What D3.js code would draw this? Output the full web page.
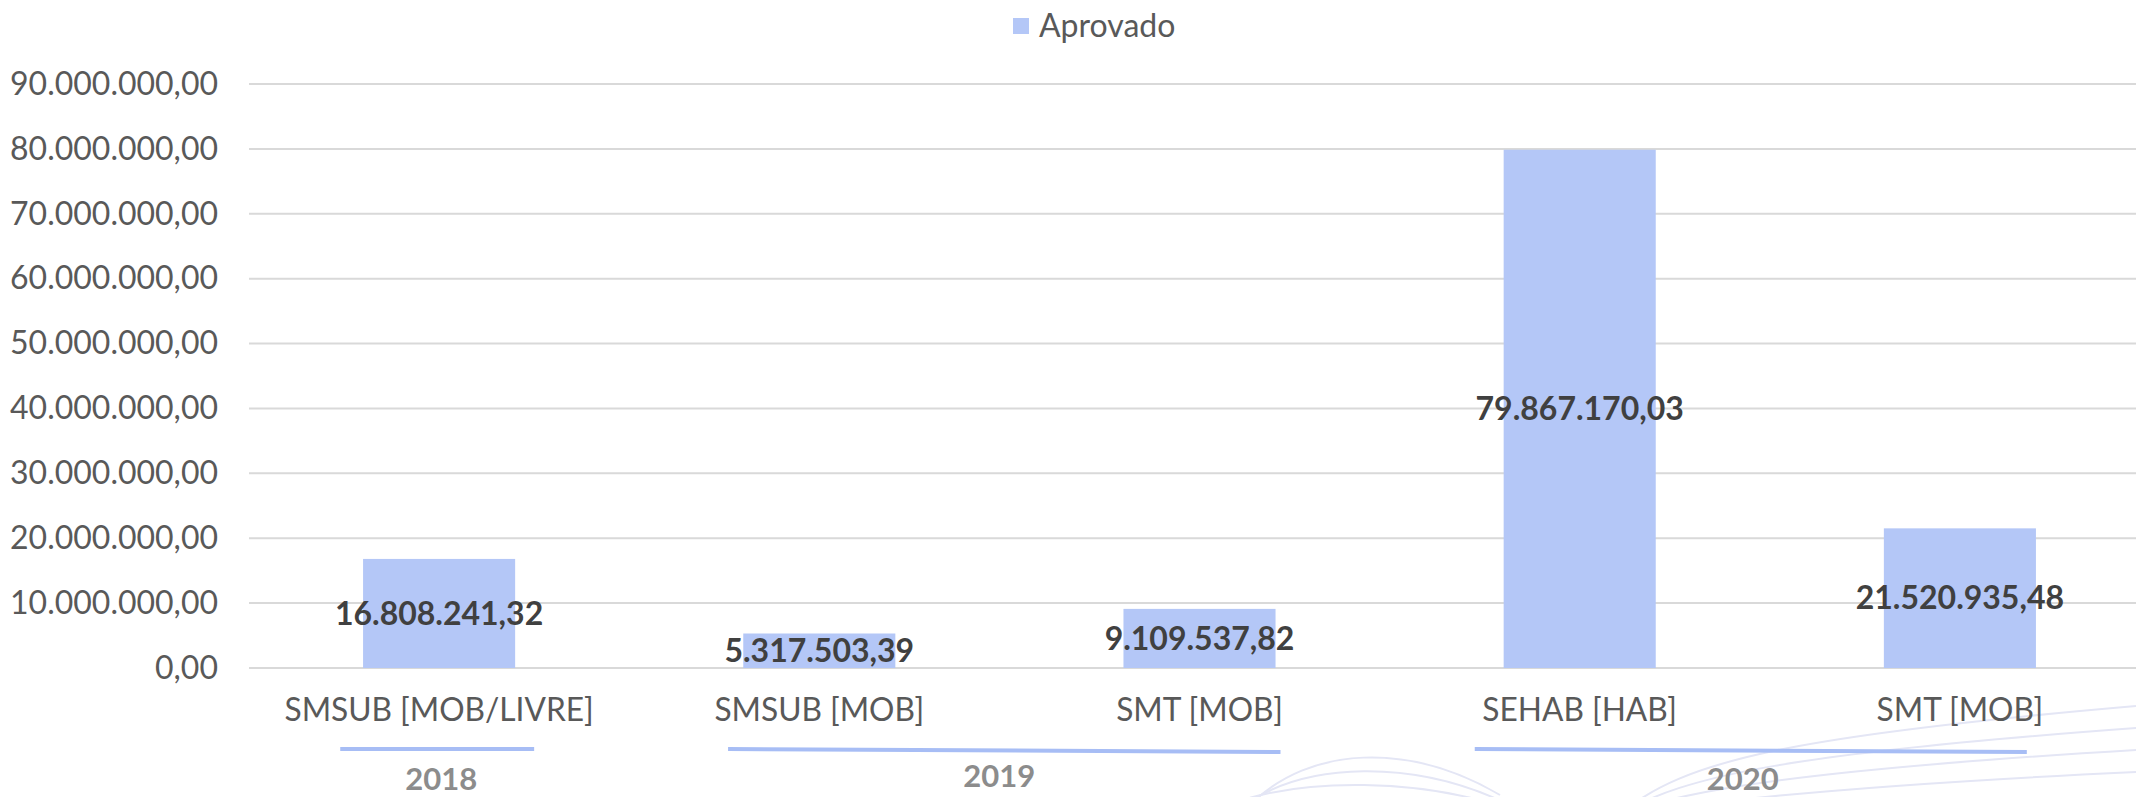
<!DOCTYPE html>
<html>
<head>
<meta charset="utf-8">
<script src="https://cdn.jsdelivr.net/npm/d3@7"></script>
<style>
  body { margin: 0; background: #fff; }
  svg { display: block; font-family: Lato, "Open Sans", sans-serif; }
</style>
</head>
<body>
<script>
// data
var categories = ["SMSUB [MOB/LIVRE]", "SMSUB [MOB]", "SMT [MOB]", "SEHAB [HAB]", "SMT [MOB]"];
var years = ["2018", "2019", "2019", "2020", "2020"];
var aprovado = [16808241.32, 5317503.39, 9109537.82, 79867170.03, 21520935.48];
var yTicks = [0, 10000000, 20000000, 30000000, 40000000, 50000000, 60000000, 70000000, 80000000, 90000000];
var seriesName = "Aprovado";

var W = 2136, H = 797;
// plot area runs a bit past the right edge of the picture (cropped like the original)
var margin = {top: 84, left: 249},
    width = 1901,
    height = 668 - margin.top;

var ptBR = d3.formatLocale({decimal: ",", thousands: ".", grouping: [3], currency: ["R$", ""]});
var fmt = ptBR.format(",.2f");

var svg = d3.select("body")
  .append("svg")
    .attr("width", W)
    .attr("height", H);

// faint background swirls (slide decoration)
var deco = svg.append("g").attr("fill", "none").attr("stroke", "#e4e6f5").attr("stroke-width", 2);
[0, 18, 36].forEach(function(o) {
  deco.append("path").attr("d", "M1250," + (805 - o * 0.2) + " C1310," + (745 + o) + " 1410," + (742 + o) + " 1500," + (795 + o * 0.3));
});
[0, 22, 44, 66].forEach(function(o) {
  deco.append("path").attr("d", "M1620,815 C1680," + (760 + o * 0.7) + " 1800," + (735 + o * 0.8) + " 2136," + (706 + o));
});

var chartGroup = svg.append("g")
  .attr("transform", "translate(" + margin.left + "," + margin.top + ")");

var idx = d3.range(categories.length);

var x = d3.scaleBand()
  .domain(idx)
  .range([0, width])
  .paddingInner(0.6)
  .paddingOuter(0.3);

var y = d3.scaleLinear()
  .domain([0, 90000000])
  .range([height, 0]);

// gridlines
chartGroup.append("g")
  .selectAll("line")
  .data(yTicks)
  .enter()
  .append("line")
    .attr("x1", 0)
    .attr("x2", W - margin.left)
    .attr("y1", d => y(d))
    .attr("y2", d => y(d))
    .attr("stroke", "#d9d9d9")
    .attr("stroke-width", 2);

// y axis labels
var yAxis = d3.axisLeft(y).tickValues(yTicks).tickFormat(fmt).tickSize(0).tickPadding(31);
var yg = chartGroup.append("g").call(yAxis);
yg.select(".domain").remove();
yg.selectAll("text")
  .attr("font-size", 32)
  .attr("fill", "#595959")
  .attr("font-family", "Lato, sans-serif");

// bars
chartGroup.selectAll("rect.bar")
  .data(idx)
  .enter()
  .append("rect")
    .attr("class", "bar")
    .attr("x", i => x(i))
    .attr("y", i => y(aprovado[i]))
    .attr("width", x.bandwidth())
    .attr("height", i => height - y(aprovado[i]))
    .attr("fill", "#b4c7f7");

// data labels (centered in bar)
chartGroup.selectAll("text.val")
  .data(idx)
  .enter()
  .append("text")
    .attr("class", "val")
    .attr("x", i => x(i) + x.bandwidth() / 2)
    .attr("y", i => (y(aprovado[i]) + height) / 2)
    .attr("dy", "0.35em")
    .attr("text-anchor", "middle")
    .attr("font-size", 32)
    .attr("font-weight", "bold")
    .attr("fill", "#404040")
    .text(i => fmt(aprovado[i]));

// category labels
var xAxis = d3.axisBottom(x).tickFormat(i => categories[i]).tickSize(0).tickPadding(30);
var xg = chartGroup.append("g").attr("transform", "translate(0," + height + ")").call(xAxis);
xg.select(".domain").remove();
xg.selectAll("text")
  .attr("transform", "scale(0.96,1)")
  .attr("font-size", 33)
  .attr("fill", "#595959")
  .attr("font-family", "Lato, sans-serif");

// year groups: underline + year label below the categories
var step = x.step();
var groups = d3.groups(idx, i => years[i]);
var insetL = [0.26, 0.24, 0.276], insetR = [0.25, 0.213, 0.176];
var labelShift = [4, -5, -8], labelY = [111, 108, 111], tilt = [0, 3, 3];
var yg2 = chartGroup.append("g").attr("transform", "translate(0," + height + ")");
groups.forEach(function(g, k) {
  var first = g[1][0], last = g[1][g[1].length - 1];
  var lx0 = x(first) + x.bandwidth() / 2 - step * insetL[k];
  var lx1 = x(last) + x.bandwidth() / 2 + step * insetR[k];
  yg2.append("line")
    .attr("x1", lx0).attr("x2", lx1)
    .attr("y1", 81).attr("y2", 81 + tilt[k])
    .attr("stroke", "#a7bdf5")
    .attr("stroke-width", 4);
  yg2.append("text")
    .attr("x", (lx0 + lx1) / 2 + labelShift[k])
    .attr("y", labelY[k])
    .attr("dy", "0.35em")
    .attr("text-anchor", "middle")
    .attr("font-size", 31)
    .attr("font-weight", "bold")
    .attr("fill", "#8c8c8c")
    .text(g[0]);
});

// legend
var lg = svg.append("g").attr("transform", "translate(1013,26)");
lg.append("rect").attr("x", 0).attr("y", -8).attr("width", 16).attr("height", 16).attr("fill", "#b4c7f7");
lg.append("text").attr("x", 26).attr("dy", "0.35em").attr("font-size", 32).attr("fill", "#595959").text(seriesName);
</script>
</body>
</html>
